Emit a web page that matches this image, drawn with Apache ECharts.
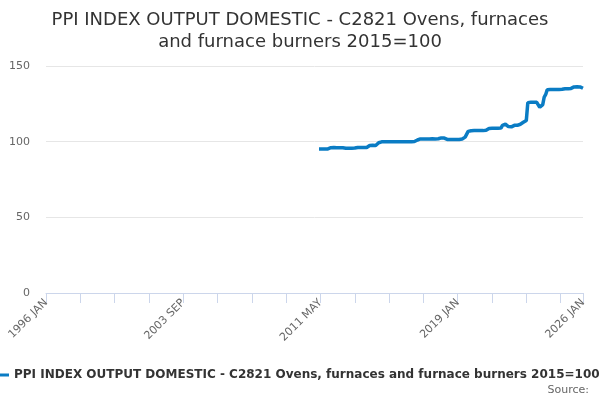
<!DOCTYPE html>
<html>
<head>
<meta charset="utf-8">
<script src="https://cdn.jsdelivr.net/npm/echarts@6/dist/echarts.min.js"></script>
<style>html,body{margin:0;padding:0;background:#fff;}#c{width:600px;height:400px;}</style>
</head>
<body>
<div id="c"></div>
<script>
// Axis runs monthly from 1996 JAN to 2026 JAN
var startYear = 1996, endYear = 2026;
var monthNames = ['JAN','FEB','MAR','APR','MAY','JUN','JUL','AUG','SEP','OCT','NOV','DEC'];
var categories = [];
for (var y = startYear; y <= endYear; y++) {
  for (var m = 0; m < 12; m++) {
    if (y === endYear && m > 0) break;
    categories.push(y + ' ' + monthNames[m]);
  }
}
// Series begins 2011 APR
var seriesStart = '2011 APR';
var seriesValues = [
  95.2,95.2,95.2,95.3,95.2,95.2,95.2,
  96.0,96.0,96.0,96.1,96.0,96.0,96.0,96.0,96.1,96.0,
  95.7,95.7,95.6,95.7,95.7,95.7,95.7,95.8,95.7,
  96.2,96.2,96.2,96.3,96.2,96.2,96.2,
  97.5,97.5,97.5,97.6,97.5,97.5,97.6,
  99.3,
  99.8,99.9,100.0,100.0,100.0,100.0,100.0,100.0,100.0,100.0,100.0,100.0,100.0,100.0,100.0,100.0,100.0,100.0,100.0,100.0,100.0,100.0,100.0,100.1,100.2,
  101.1,101.2,
  101.8,101.8,101.8,101.9,101.8,101.8,101.8,101.8,101.9,101.8,101.8,101.8,101.9,101.9,
  102.5,102.7,102.4,
  101.6,101.5,101.5,101.5,101.5,101.4,101.5,101.5,101.4,101.5,101.6,101.8,
  102.6,103.0,103.2,
  106.8,107.0,107.2,107.2,107.3,107.3,107.3,107.3,107.4,107.3,107.3,107.4,107.5,
  108.5,108.7,108.8,108.8,108.8,108.9,108.9,108.9,108.9,109.0,
  110.8,111.6,111.5,111.2,
  110.0,109.6,109.8,
  110.6,110.8,110.9,110.8,111.0,111.5,
  112.5,112.8,113.2,114.0,
  125.8,126.0,126.0,126.0,126.0,126.0,126.0,125.9,
  122.7,
  123.6,
  124.5,
  129.5,
  131.2,
  134.3,134.5,134.5,134.5,134.5,134.5,134.5,134.5,134.5,134.5,134.6,
  135.0,135.0,135.1,135.0,135.1,135.2,
  136.0,136.2,136.3,136.3,136.3,136.2,136.2,
  135.3
];
var yTicks = [0, 50, 100, 150];
var titleText = 'PPI INDEX OUTPUT DOMESTIC - C2821 Ovens, furnaces\nand furnace burners 2015=100';
var seriesName = 'PPI INDEX OUTPUT DOMESTIC - C2821 Ovens, furnaces and furnace burners 2015=100';

var startIdx = categories.indexOf(seriesStart);
var data = categories.map(function (c, i) {
  var k = i - startIdx;
  return (k >= 0 && k < seriesValues.length) ? seriesValues[k] : null;
});
var lastIdx = categories.length - 1;

var chart = echarts.init(document.getElementById('c'), null, {renderer: 'canvas'});
chart.setOption({
  animation: false,
  textStyle: {fontFamily: 'DejaVu Sans'},
  title: {
    text: titleText,
    left: 'center',
    top: 4,
    textStyle: {fontSize: 18, fontWeight: 'normal', color: '#333333', lineHeight: 22, fontFamily: 'DejaVu Sans'}
  },
  grid: {left: 46, right: 17, top: 66, bottom: 107, containLabel: false},
  legend: {
    left: -12,
    top: 364,
    itemWidth: 16,
    itemHeight: 3,
    itemGap: 4,
    icon: 'rect',
    textStyle: {fontSize: 12, fontWeight: 'bold', color: '#333333', fontFamily: 'DejaVu Sans'},
    data: [seriesName]
  },
  graphic: [{
    type: 'text',
    right: 11,
    top: 385,
    style: {text: 'Source:', fontSize: 11, fill: '#666666', fontFamily: 'DejaVu Sans'}
  }],
  xAxis: {
    type: 'category',
    data: categories,
    boundaryGap: false,
    axisLine: {lineStyle: {color: '#ccd6eb'}},
    axisTick: {
      length: 10,
      lineStyle: {color: '#ccd6eb'},
      interval: function (i) { return i % 23 === 0 || i === lastIdx; }
    },
    axisLabel: {
      rotate: 45,
      margin: 8,
      fontSize: 11,
      color: '#666666',
      interval: function (i) { return i % 92 === 0 || i === lastIdx; }
    },
    splitLine: {show: false}
  },
  yAxis: {
    type: 'value',
    min: yTicks[0],
    max: yTicks[yTicks.length - 1],
    interval: 50,
    axisLine: {show: false},
    axisTick: {show: false},
    axisLabel: {fontSize: 11, color: '#666666', margin: 16},
    splitLine: {lineStyle: {color: '#e6e6e6'}}
  },
  series: [{
    name: seriesName,
    type: 'line',
    data: data,
    color: '#0a7cc4',
    lineStyle: {width: 3.5, color: '#0a7cc4'},
    showSymbol: false,
    symbol: 'circle',
    connectNulls: false
  }]
});
</script>
</body>
</html>
